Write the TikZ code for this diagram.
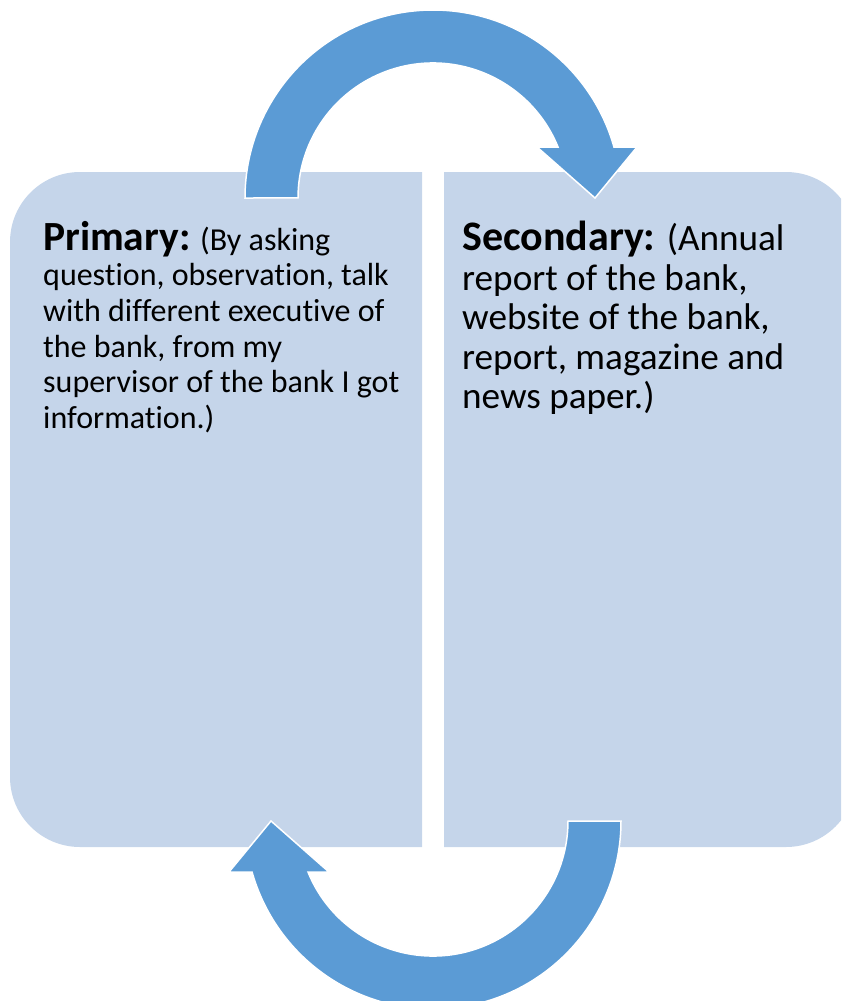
\documentclass[tikz,border=0pt]{standalone}
\usepackage{fontspec}
\setmainfont{Carlito}[Ligatures=NoCommon]
\definecolor{boxfill}{RGB}{197,213,234}
\definecolor{arrowfill}{RGB}{91,155,213}
\begin{document}
\begin{tikzpicture}[x=1pt,y=-1pt,
  boxshape/.style={fill=boxfill,draw=none},
  bentarrow/.style={fill=arrowfill,draw=white,line width=1.5pt,line join=miter},
  lefttext/.style={anchor=north west,inner sep=0pt,align=left,font=\fontsize{32}{35.6}\selectfont},
  righttext/.style={anchor=north west,inner sep=0pt,align=left,font=\fontsize{37.2}{39.5}\selectfont}]
\useasboundingbox (0,0) rectangle (841,1001);
\clip (0,0) rectangle (841,1001);
% boxes
\path[boxshape] (422,172) -- (80,172) arc[start angle=270,end angle=180,radius=70] -- (10,777) arc[start angle=180,end angle=90,radius=70] -- (422,847) -- cycle;
\path[boxshape] (444,172) -- (786,172) arc[start angle=-90,end angle=0,radius=70] -- (856,777) arc[start angle=0,end angle=90,radius=70] -- (444,847) -- cycle;
% top arrow
\path[bentarrow] (245,198) arc[start angle=180,end angle=344.26,radius=188] -- (637,147) -- (595,198) -- (537,147) -- (558,147) arc[start angle=337.81,end angle=180,radius=135] -- cycle;
% bottom arrow (point reflection)
\begin{scope}[rotate around={180:(433,509.5)}]
\path[bentarrow] (245,198) arc[start angle=180,end angle=344.26,radius=188] -- (637,147) -- (595,198) -- (537,147) -- (558,147) arc[start angle=337.81,end angle=180,radius=135] -- cycle;
\end{scope}
% texts
\node[lefttext] (primary) at (43,221) {{\fontsize{41.5}{35.6}\selectfont\bfseries Primary:} (By asking\\question, observation, talk\\with different executive of\\the bank, from my\\supervisor of the bank I got\\information.)};
\node[righttext] (secondary) at (462,221) {{\fontsize{42}{39.5}\selectfont\bfseries Secondary:} (Annual\\report of the bank,\\website of the bank,\\report, magazine and\\news paper.)};
\end{tikzpicture}
\end{document}
